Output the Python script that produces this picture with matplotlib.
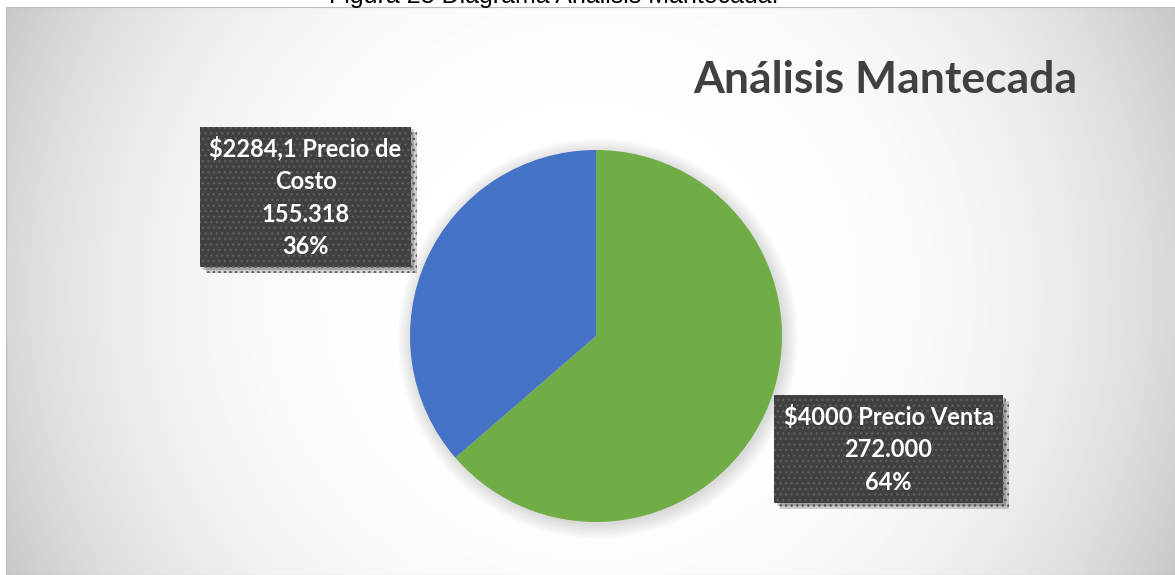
import numpy as np
import matplotlib
matplotlib.use("Agg")
import matplotlib.pyplot as plt
from matplotlib.patches import Rectangle, Circle
from matplotlib import patheffects

# data
categories = ["$4000 Precio Venta", "$2284,1 Precio de\nCosto"]
values = [272000, 155318]
colors = ["#70ad47", "#4472c4"]
title = "Análisis Mantecada"
caption = "Figura 28 Diagrama Análisis Mantecada."

W, H = 1175, 575
fig = plt.figure(figsize=(W / 100, H / 100), dpi=100, facecolor="white")

# background in pixel coordinates
bg = fig.add_axes([0, 0, 1, 1])
bg.set_xlim(0, W)
bg.set_ylim(H, 0)
bg.axis("off")

yy, xx = np.mgrid[7:H:2, 6:W:2]
d = np.hypot(xx - 590, yy - 290) / 650.0
shade = 1.0 - 0.22 * np.clip(d, 0, 1.1) ** 3.3
bg.imshow(shade, cmap="gray", vmin=0, vmax=1, extent=(5.5, W, H, 7),
          interpolation="bilinear", aspect="auto")
bg.add_patch(Rectangle((5.5, 7), W - 5, H - 7, fill=False, ec="#bdbdbd", lw=0.8))

bg.text(554, 3, caption, ha="center", va="baseline", fontsize=18,
        family="Liberation Sans", color="black", clip_on=False)
bg.text(885, 93, title, ha="center", va="baseline", fontsize=32,
        family="Lato", weight="bold", color="#404040")

# pie
cx, cy, r = 596, 336, 186
ax = fig.add_axes([(cx - r) / W, (H - cy - r) / H, 2 * r / W, 2 * r / H])
ax.set_facecolor("none")
for k in range(12):
    ax.add_patch(Circle((0.01, -0.012), 1.0 + 0.007 * k, color="black",
                        alpha=0.012, lw=0, clip_on=False, zorder=0))
ax.pie(values, colors=colors, startangle=90, counterclock=False,
       wedgeprops=dict(linewidth=0))
ax.set_xlim(-1, 1)
ax.set_ylim(-1, 1)
ax.set_aspect("equal")
ax.axis("off")

# data labels
total = sum(values)
label_pos = [(888.5, 449), (305.5, 197)]
for name, v, pos in zip(categories, values, label_pos):
    txt = name + "\n" + f"{v:,}".replace(",", ".") + f"\n{round(v / total * 100)}%"
    t = fig.text(pos[0] / W, 1 - pos[1] / H, txt, ha="center", va="center",
                 fontsize=17, family="Lato", weight="bold", color="white",
                 linespacing=1.5, multialignment="center",
                 bbox=dict(boxstyle="square,pad=0.4", fc="#404040",
                           ec="#5e5e5e", lw=0, hatch="..."))
    t.get_bbox_patch().set_path_effects([
        patheffects.withSimplePatchShadow(offset=(4, -4), shadow_rgbFace="black", alpha=0.18),
        patheffects.withSimplePatchShadow(offset=(2, -2), shadow_rgbFace="black", alpha=0.2),
        patheffects.Normal()])

fig.savefig("out.png", dpi=100, facecolor="white")
